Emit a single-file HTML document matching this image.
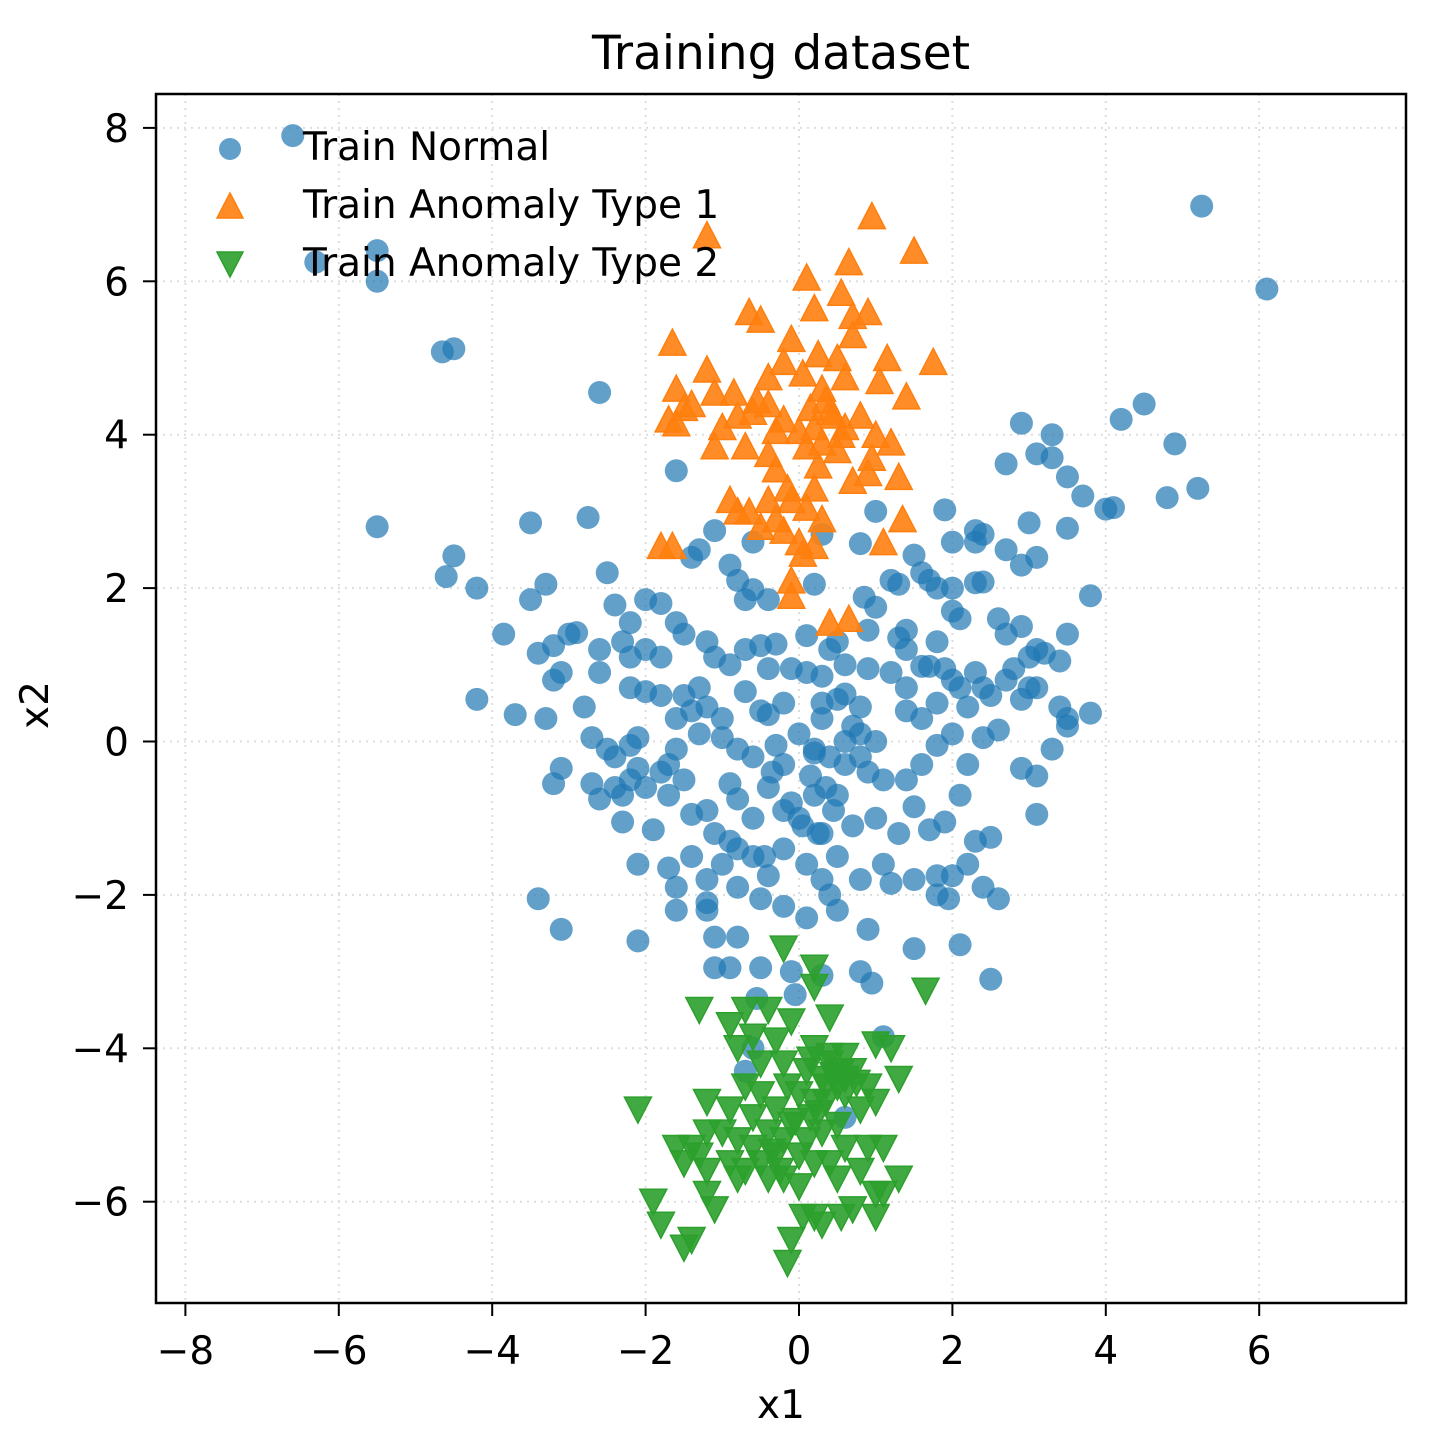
<!DOCTYPE html>
<html><head><meta charset="utf-8"><style>
html,body{margin:0;padding:0;background:#fff;}
svg{display:block;font-family:"DejaVu Sans","Liberation Sans",sans-serif;}
</style></head><body>
<svg id="chart" width="1437" height="1443" viewBox="0 0 1437 1443" xmlns="http://www.w3.org/2000/svg">
<rect width="1437" height="1443" fill="#fff"/>
<g id="grid"></g>
<g id="normal"></g>
<g id="anom1"></g>
<g id="anom2"></g>
<rect x="156" y="94" width="1250" height="1209" fill="none" stroke="#000" stroke-width="2.5"/>
<g id="ticks"></g>
<text x="781" y="69" font-size="47" text-anchor="middle">Training dataset</text>
<text x="781" y="1418" font-size="39" text-anchor="middle">x1</text>
<text x="0" y="0" font-size="39" text-anchor="middle" transform="translate(48,705) rotate(-90)">x2</text>
<g id="legend">
  <circle cx="230" cy="149" r="11" fill="#1f77b4" fill-opacity="0.7"/>
  <text x="303" y="160" font-size="39">Train Normal</text>
  <path d="M230,193 L243,218 L217,218 Z" fill="#ff7f0e" fill-opacity="0.9" stroke="#ff7f0e" stroke-width="1.5"/>
  <text x="303" y="218" font-size="39">Train Anomaly Type 1</text>
  <path d="M230,277 L243,252 L217,252 Z" fill="#2ca02c" fill-opacity="0.9" stroke="#2ca02c" stroke-width="1.5"/>
  <text x="303" y="276" font-size="39">Train Anomaly Type 2</text>
</g>
</svg>
<script>
const xTicks=[-8,-6,-4,-2,0,2,4,6];
const yTicks=[-6,-4,-2,0,2,4,6,8];
const normalX=[-6.6,-5.5,-6.3,-5.5,-4.65,-4.5,-2.6,-1.6,5.25,6.1,-5.5,-4.5,-4.6,-4.2,-3.5,-2.75,-2.5,-3.3,-3.5,4.5,4.2,3.3,2.9,3.1,3.3,2.7,3.5,4.9,4.8,5.2,3.7,4.0,4.1,3.0,3.5,2.7,2.9,3.1,3.8,1.9,1.0,0.8,2.0,2.3,2.4,2.3,1.5,1.6,1.7,1.8,1.2,1.3,2.0,2.3,2.4,1.0,0.85,0.9,-1.3,-1.4,-0.6,-1.1,-0.9,-0.8,-0.6,-0.4,-0.7,0.2,0.3,-1.8,-2.0,-2.4,-2.2,-3.85,-3.0,-2.9,-3.2,-3.4,-2.3,-2.2,-2.0,-1.8,-1.6,-1.5,-1.2,-1.1,-0.9,-0.7,-0.5,-0.3,0.1,0.4,0.6,0.9,1.4,1.3,1.8,2.1,2.0,2.6,2.7,2.9,3.0,3.1,3.2,3.5,3.4,1.6,1.7,1.9,2.0,2.1,2.3,2.4,2.5,2.7,2.8,2.9,3.0,3.1,3.4,3.5,3.8,3.5,-3.2,-3.1,-2.6,-2.6,-4.2,-3.7,-3.3,-2.8,-2.7,-2.2,-2.0,-1.8,-1.5,-1.3,-1.4,-1.2,-0.7,-0.5,-0.4,-0.1,0.3,0.5,0.6,0.8,1.4,1.4,1.6,1.8,2.2,-2.5,-2.4,-2.2,-2.1,-2.1,-1.7,-1.6,-1.3,-1.0,-0.8,-0.6,-0.3,0.0,0.2,0.4,0.6,0.8,0.9,1.1,1.4,1.6,1.8,2.0,2.2,2.4,2.6,2.9,3.1,3.3,3.1,-3.2,-3.1,-2.7,-2.6,-2.4,-2.3,-2.2,-2.3,-2.0,-1.9,-1.8,-1.7,-1.5,-1.4,-1.2,-1.1,-0.9,-0.8,-0.6,-0.4,-0.2,0.0,0.2,0.3,0.5,0.7,1.0,1.3,1.5,1.7,1.9,2.1,2.3,2.5,-2.1,-1.7,-1.6,-1.4,-1.2,-1.0,-0.8,-0.6,-0.4,-0.2,0.1,0.3,0.5,0.8,1.1,1.2,1.5,1.8,2.0,2.2,2.4,2.6,1.8,1.95,-3.4,-3.1,-2.1,-1.6,-1.2,-1.2,-0.8,-0.8,-0.5,-0.2,0.1,0.4,0.5,0.9,-1.1,-1.1,-0.9,-0.5,-0.1,0.3,0.8,0.95,1.5,2.1,2.5,-0.05,-0.55,1.1,-0.6,-0.7,0.6,-0.2,0.6,0.8,1.0,0.3,-0.2,0.1,0.3,0.5,-0.4,0.7,1.4,1.2,-1.0,-1.6,0.15,-0.1,0.25,-0.35,0.45,-0.9,0.35,0.05,-0.45,0.2];
const normalY=[7.9,6.4,6.25,6.0,5.08,5.12,4.55,3.53,6.98,5.9,2.8,2.42,2.15,2.0,2.85,2.92,2.2,2.05,1.85,4.4,4.2,4.0,4.15,3.75,3.7,3.62,3.45,3.88,3.18,3.3,3.2,3.03,3.05,2.85,2.78,2.5,2.3,2.4,1.9,3.02,3.0,2.58,2.6,2.6,2.7,2.75,2.43,2.2,2.1,2.0,2.1,2.05,2.0,2.07,2.08,1.75,1.88,1.45,2.5,2.4,2.6,2.75,2.3,2.1,1.98,1.85,1.85,2.05,2.7,1.8,1.85,1.78,1.55,1.4,1.4,1.42,1.25,1.15,1.3,1.1,1.2,1.1,1.55,1.4,1.3,1.1,1.0,1.2,1.25,1.27,1.38,1.2,1.0,0.95,1.45,1.35,1.3,1.6,1.7,1.6,1.4,1.5,1.1,1.2,1.15,1.4,1.05,0.98,0.98,0.95,0.8,0.7,0.9,0.7,0.6,0.8,0.95,0.55,0.7,0.7,0.45,0.3,0.37,0.2,0.8,0.9,0.9,1.2,0.55,0.35,0.3,0.45,0.05,0.7,0.65,0.6,0.6,0.7,0.4,0.45,0.65,0.4,0.35,0.95,0.5,0.55,0.62,0.45,0.7,0.4,0.3,0.5,0.45,-0.1,-0.2,-0.05,-0.35,0.05,-0.3,-0.1,0.1,0.3,-0.1,-0.2,-0.05,0.1,-0.1,-0.2,-0.3,-0.2,-0.4,-0.5,-0.5,-0.3,-0.05,0.1,-0.3,0.05,0.15,-0.35,-0.45,-0.1,-0.95,-0.55,-0.35,-0.55,-0.75,-0.6,-0.7,-0.5,-1.05,-0.6,-1.15,-0.4,-0.7,-0.5,-0.95,-0.9,-1.2,-0.55,-0.75,-1.0,-0.6,-0.9,-1.0,-0.7,-1.2,-0.7,-1.1,-1.0,-1.2,-0.85,-1.15,-1.05,-0.7,-1.3,-1.25,-1.6,-1.65,-1.9,-1.5,-1.8,-1.6,-1.4,-1.5,-1.75,-1.4,-1.6,-1.8,-1.5,-1.8,-1.6,-1.85,-1.8,-1.75,-1.75,-1.6,-1.9,-2.05,-2.0,-2.05,-2.05,-2.45,-2.6,-2.2,-2.1,-2.2,-1.9,-2.55,-2.05,-2.15,-2.3,-2.0,-2.2,-2.45,-2.55,-2.95,-2.95,-2.95,-3.0,-3.05,-3.0,-3.15,-2.7,-2.65,-3.1,-3.3,-3.35,-3.85,-4.0,-4.3,-4.9,-0.3,0.0,0.1,0.0,0.3,0.5,0.9,0.85,1.3,0.95,0.2,1.2,0.9,0.05,0.3,-0.45,-0.8,-1.2,-0.4,-0.9,-1.3,-0.6,-1.1,-1.5,-0.15];
const anom1X=[0.95,1.5,-1.2,0.1,0.65,0.55,0.2,-0.65,-0.5,0.7,0.9,-1.65,-0.1,0.25,0.5,0.7,1.15,1.75,-1.6,-1.2,-1.1,-0.85,-0.55,-0.4,-0.2,0.05,0.3,0.6,1.05,1.4,-1.7,-1.5,-1.4,-1.6,-1.0,-0.8,-0.6,-0.4,-0.2,0.0,0.2,0.4,0.6,0.8,1.0,1.2,-1.1,-0.7,-0.4,-0.3,0.1,0.3,0.5,0.95,1.3,0.7,-0.9,-0.65,-0.4,-0.3,-0.1,0.1,0.2,0.3,-0.5,-0.2,0.0,0.05,0.2,1.35,1.1,-1.8,-1.65,-0.1,-0.1,0.4,0.65,0.9,-0.8,0.15,0.45,-0.3,0.35,0.55,-0.15,0.25];
const anom1Y=[6.85,6.4,6.6,6.05,6.25,5.85,5.65,5.6,5.5,5.55,5.6,5.2,5.25,5.05,5.0,5.3,5.0,4.95,4.6,4.85,4.55,4.55,4.45,4.75,4.95,4.8,4.6,4.75,4.7,4.5,4.2,4.35,4.4,4.15,4.1,4.25,4.3,4.4,4.2,4.05,4.1,4.3,4.1,4.25,4.0,3.9,3.85,3.85,3.75,3.55,3.85,3.9,3.8,3.7,3.45,3.4,3.15,3.0,3.15,2.9,3.15,3.05,3.3,2.9,2.8,2.75,2.6,2.45,2.55,2.9,2.6,2.55,2.55,2.1,1.9,1.55,1.6,3.5,3.0,4.35,4.25,4.05,4.45,4.0,3.3,3.6];
const anom2X=[-0.2,0.2,0.2,1.65,-1.3,-0.7,-0.9,-0.4,0.4,-0.6,-0.3,-0.1,0.2,0.6,1.0,1.2,-0.8,-0.5,-0.2,0.1,0.3,0.4,0.5,0.7,0.9,1.3,-0.7,-0.5,-0.3,0.0,0.2,0.35,0.6,-1.2,-0.9,-2.1,-0.6,-0.1,0.15,0.5,0.8,1.0,-1.0,-0.8,-0.4,-0.2,0.3,-1.4,-1.2,-1.6,-1.3,-0.6,-0.3,0.0,0.4,0.6,0.9,1.1,-0.9,-0.7,-0.5,0.2,0.5,0.8,1.3,-1.2,-1.5,-0.8,-0.2,0.0,1.0,-1.9,-1.2,-1.1,-0.4,0.05,0.3,0.55,0.7,1.0,0.2,-1.8,-1.4,-1.5,-0.1,-0.15,1.1,0.4,0.6,-0.15,0.1,0.45,0.25,-0.35,0.55,0.75,-0.05,0.35,-0.25,0.15];
const anom2Y=[-2.7,-2.95,-3.2,-3.25,-3.5,-3.5,-3.7,-3.5,-3.6,-3.85,-3.9,-3.65,-4.0,-4.1,-3.95,-4.0,-4.0,-4.2,-4.2,-4.3,-4.4,-4.2,-4.5,-4.3,-4.5,-4.4,-4.5,-4.6,-4.8,-4.6,-4.7,-4.5,-4.6,-4.7,-4.8,-4.8,-4.9,-5.0,-4.9,-5.0,-4.8,-4.7,-5.1,-5.2,-5.1,-5.2,-5.1,-5.3,-5.1,-5.3,-5.4,-5.3,-5.4,-5.4,-5.5,-5.3,-5.3,-5.3,-5.5,-5.6,-5.5,-5.5,-5.7,-5.6,-5.7,-5.6,-5.5,-5.7,-5.7,-5.8,-5.9,-6.0,-5.9,-6.1,-5.7,-6.2,-6.3,-6.2,-6.1,-6.2,-6.2,-6.3,-6.5,-6.6,-6.5,-6.8,-5.9,-4.1,-4.4,-4.5,-5.2,-4.35,-4.85,-5.35,-4.3,-4.45,-4.95,-4.7,-5.6,-4.15];
const NS="http://www.w3.org/2000/svg";
function sx(v){return 799+v*76.7;}
function sy(v){return 741.5-v*76.7;}
function mk(tag,parent){const e=document.createElementNS(NS,tag);parent.appendChild(e);return e;}
const grid=document.getElementById('grid'),ticks=document.getElementById('ticks');
xTicks.forEach(t=>{
  const x=sx(t);
  const g=mk('line',grid);
  
  
  g.setAttribute('x1',x);g.setAttribute('x2',x);g.setAttribute('y1',94);g.setAttribute('y2',1303);
  g.setAttribute('stroke','#ddd');g.setAttribute('stroke-width','2');g.setAttribute('stroke-dasharray','2,5');
  const tk=mk('line',ticks);
  
  
  tk.setAttribute('x1',x);tk.setAttribute('x2',x);tk.setAttribute('y1',1303);tk.setAttribute('y2',1316);
  tk.setAttribute('stroke','#000');tk.setAttribute('stroke-width','2');
  const lb=mk('text',ticks);
  
  
  lb.setAttribute('x',x);lb.setAttribute('y',1364);lb.setAttribute('font-size','39');lb.setAttribute('text-anchor','middle');
  lb.textContent=(t<0?'\u2212':'')+Math.abs(t);
});
yTicks.forEach(t=>{
  const y=sy(t);
  const g=mk('line',grid);
  
  
  g.setAttribute('x1',156);g.setAttribute('x2',1406);g.setAttribute('y1',y);g.setAttribute('y2',y);
  g.setAttribute('stroke','#ddd');g.setAttribute('stroke-width','2');g.setAttribute('stroke-dasharray','2,5');
  const tk=mk('line',ticks);
  
  
  tk.setAttribute('x1',143);tk.setAttribute('x2',156);tk.setAttribute('y1',y);tk.setAttribute('y2',y);
  tk.setAttribute('stroke','#000');tk.setAttribute('stroke-width','2');
  const lb=mk('text',ticks);
  
  
  lb.setAttribute('x',129);lb.setAttribute('y',y+14);lb.setAttribute('font-size','39');lb.setAttribute('text-anchor','end');
  lb.textContent=(t<0?'\u2212':'')+Math.abs(t);
});
const gN=document.getElementById('normal');
normalX.forEach((v,i)=>{
  const c=mk('circle',gN);
  
  
  c.setAttribute('cx',sx(v));c.setAttribute('cy',sy(normalY[i]));c.setAttribute('r','11.5');
  c.setAttribute('fill','#1f77b4');c.setAttribute('fill-opacity','0.7');
});
const g1=document.getElementById('anom1');
anom1X.forEach((v,i)=>{
  const x=sx(v),y=sy(anom1Y[i]);
  const p=mk('path',g1);
  
  
  p.setAttribute('d',`M${x},${y-13.5} L${x+13.5},${y+12.5} L${x-13.5},${y+12.5} Z`);
  p.setAttribute('fill','#ff7f0e');p.setAttribute('fill-opacity','0.9');p.setAttribute('stroke','#ff7f0e');p.setAttribute('stroke-width','1.5');
});
const g2=document.getElementById('anom2');
anom2X.forEach((v,i)=>{
  const x=sx(v),y=sy(anom2Y[i]);
  const p=mk('path',g2);
  
  
  p.setAttribute('d',`M${x},${y+13.5} L${x+13.5},${y-12.5} L${x-13.5},${y-12.5} Z`);
  p.setAttribute('fill','#2ca02c');p.setAttribute('fill-opacity','0.9');p.setAttribute('stroke','#2ca02c');p.setAttribute('stroke-width','1.5');
});
</script>
</body></html>
